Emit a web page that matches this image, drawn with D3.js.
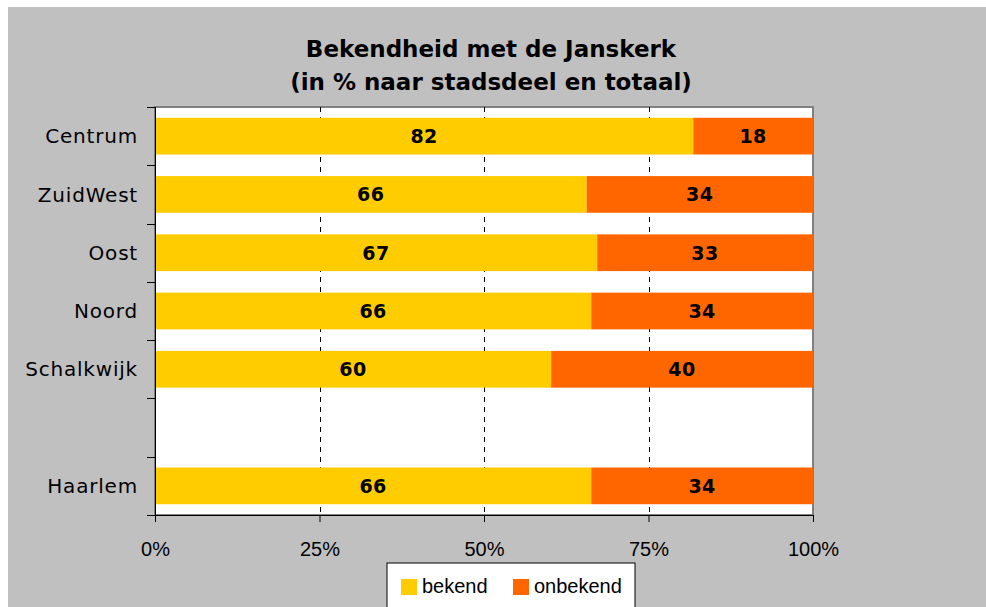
<!DOCTYPE html>
<html>
<head>
<meta charset="utf-8">
<script src="https://cdn.jsdelivr.net/npm/d3@7"></script>
<style>
  body { margin: 0; background: #ffffff; }
  svg { display: block; }
</style>
</head>
<body>
<svg id="chart"></svg>
<script>
// Data
const categories = ["Centrum", "ZuidWest", "Oost", "Noord", "Schalkwijk", "", "Haarlem"];
const bekend = [81.8, 65.6, 67.2, 66.3, 60.2, null, 66.3];
const onbekend = [18.2, 34.4, 32.8, 33.7, 39.8, null, 33.7];
const xTicks = [0, 25, 50, 75, 100];
const seriesNames = ["bekend", "onbekend"];
const titleLines = ["Bekendheid met de Janskerk", "(in % naar stadsdeel en totaal)"];

const colors = { bekend: "#FFCC00", onbekend: "#FF6600" };

// Chart dimensions
const width = 986;
const height = 607;
const marginTop = 107;
const marginRight = 173;
const marginBottom = 92;
const marginLeft = 155;

// keys so the empty row gets its own band
const keys = categories.map((c, i) => i);

const rows = keys.map(i => ({
    key: i,
    name: categories[i],
    bekend: bekend[i],
    onbekend: onbekend[i]
})).filter(d => d.bekend != null);

const stack = d3.stack().keys(seriesNames);
const stacked = stack(rows);

const x = d3.scaleLinear([0, 100], [marginLeft, width - marginRight]);
const y = d3.scaleBand(keys, [marginTop, height - marginBottom])
    .paddingInner(0.37)
    .paddingOuter(0.185);

const svg = d3.select("#chart")
    .attr("width", width)
    .attr("height", height)
    .attr("viewBox", [0, 0, width, height]);

// grey chart area (white strip on top and left)
svg.append("rect")
    .attr("x", 8)
    .attr("y", 7)
    .attr("width", width - 8)
    .attr("height", height - 7)
    .attr("fill", "#C0C0C0");

// plot area
svg.append("rect")
    .attr("x", marginLeft)
    .attr("y", marginTop)
    .attr("width", width - marginRight - marginLeft)
    .attr("height", height - marginBottom - marginTop)
    .attr("fill", "#ffffff")
    .attr("stroke", "#808080")
    .attr("stroke-width", 2);

// dashed grid lines
svg.append("g")
    .selectAll("line")
    .data(xTicks.slice(1, -1))
    .join("line")
    .attr("x1", d => Math.round(x(d)) + 0.5)
    .attr("x2", d => Math.round(x(d)) + 0.5)
    .attr("y1", marginTop)
    .attr("y2", height - marginBottom)
    .attr("stroke", "#000")
    .attr("stroke-dasharray", "5,5");

// bars
svg.append("g")
    .selectAll("g")
    .data(stacked)
    .join("g")
    .attr("fill", d => colors[d.key])
    .selectAll("rect")
    .data(d => d)
    .join("rect")
    .attr("x", d => x(d[0]))
    .attr("y", d => y(d.data.key))
    .attr("width", d => x(d[1]) - x(d[0]))
    .attr("height", y.bandwidth());

// value labels
const fmt = d3.format(".0f");
svg.append("g")
    .attr("font-family", "'DejaVu Sans', Verdana, sans-serif")
    .attr("font-weight", "bold")
    .attr("font-size", 19)
    .attr("letter-spacing", 0.5)
    .attr("text-anchor", "middle")
    .selectAll("g")
    .data(stacked)
    .join("g")
    .selectAll("text")
    .data(d => d)
    .join("text")
    .attr("x", d => (x(d[0]) + x(d[1])) / 2)
    .attr("y", d => y(d.data.key) + y.bandwidth() / 2)
    .attr("dy", "0.36em")
    .text(d => fmt(d[1] - d[0]));

// y axis, ticks between the categories
const yAxis = svg.append("g")
    .attr("transform", `translate(${marginLeft},0)`);
yAxis.append("line")
    .attr("x1", 0.5).attr("x2", 0.5)
    .attr("y1", marginTop).attr("y2", height - marginBottom)
    .attr("stroke", "#000");
const bounds = keys.map(k => y(k) - y.step() * y.paddingInner() / 2);
bounds.push(height - marginBottom);
yAxis.selectAll(".tick")
    .data(bounds)
    .join("line")
    .attr("x1", -8).attr("x2", 0)
    .attr("y1", d => Math.round(d) + 0.5)
    .attr("y2", d => Math.round(d) + 0.5)
    .attr("stroke", "#000");
yAxis.selectAll("text")
    .data(keys)
    .join("text")
    .attr("x", -17)
    .attr("y", d => y(d) + y.bandwidth() / 2)
    .attr("dy", "0.36em")
    .attr("text-anchor", "end")
    .attr("font-family", "'DejaVu Sans', Verdana, sans-serif")
    .attr("font-size", 20)
    .attr("letter-spacing", 0.8)
    .attr("fill", "#000")
    .text(d => categories[d]);

// x axis
svg.append("g")
    .attr("transform", `translate(0,${height - marginBottom})`)
    .call(d3.axisBottom(x).tickValues(xTicks).tickFormat(d => d + "%").tickSize(7).tickPadding(20))
    .call(g => g.select(".domain").attr("stroke", "#000"))
    .call(g => g.selectAll("text")
        .attr("font-family", "'Liberation Sans', Arial, sans-serif")
        .attr("font-size", 20)
        .attr("fill", "#000"));

// title
svg.append("g")
    .attr("font-family", "'DejaVu Sans', Verdana, sans-serif")
    .attr("font-weight", "bold")
    .attr("font-size", 23)
    .attr("text-anchor", "middle")
    .selectAll("text")
    .data(titleLines)
    .join("text")
    .attr("x", 491)
    .attr("y", (d, i) => 57 + i * 33)
    .text(d => d);

// legend
const legend = svg.append("g")
    .attr("transform", "translate(387,563)");
legend.append("rect")
    .attr("width", 248)
    .attr("height", 50)
    .attr("fill", "#fff")
    .attr("stroke", "#000");
const legendItems = legend.selectAll(".item")
    .data(seriesNames)
    .join("g")
    .attr("transform", (d, i) => `translate(${14 + i * 112},16)`);
legendItems.append("rect")
    .attr("width", 16)
    .attr("height", 16)
    .attr("fill", d => colors[d]);
legendItems.append("text")
    .attr("x", 21)
    .attr("y", 7)
    .attr("dy", "0.36em")
    .attr("font-family", "'Liberation Sans', Arial, sans-serif")
    .attr("font-size", 20)
    .text(d => d);
</script>
</body>
</html>
